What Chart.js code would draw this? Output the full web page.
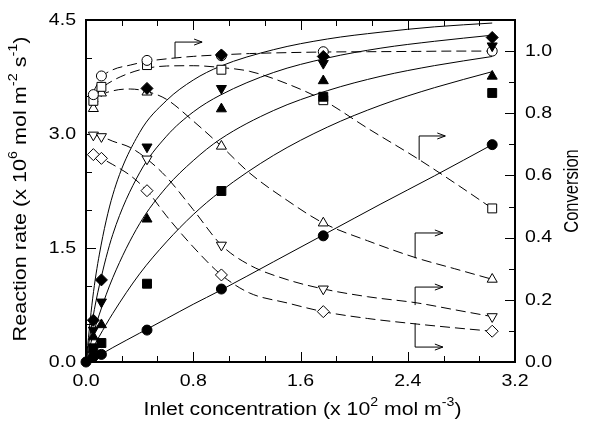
<!DOCTYPE html>
<html>
<head>
<meta charset="utf-8">
<script src="https://cdn.jsdelivr.net/npm/chart.js@4.4.0/dist/chart.umd.min.js"></script>
<style>
  html, body { margin: 0; padding: 0; background: #fff; }
</style>
</head>
<body>
<canvas id="myChart" width="589" height="433"></canvas>
<script>
// concentrazioni misurate (x 10^2 mol m^-3)
const concMisure = [0.055, 0.115, 0.455, 1.01, 1.77, 3.03];

// velocita' di reazione (x 10^6 mol m^-2 s^-1), simboli pieni
const velCerchi   = [0.07, 0.10, 0.42, 0.96, 1.66, 2.86];
const velQuadrati = [0.18, 0.25, 1.03, 2.25, 3.49, 3.54];
const velTriSu    = [0.33, 0.49, 1.88, 3.33, 3.70, 3.76];
const velTriGiu   = [0.42, 0.79, 2.83, 3.60, 3.93, 4.16];
const velRombi    = [0.55, 1.08, 3.60, 4.04, 4.02, 4.27];

// conversione, simboli vuoti
const convCerchi   = [0.86, 0.92, 0.97, 0.985, 0.998, 1.00];
const convQuadrati = [0.84, 0.885, 0.955, 0.94, 0.842, 0.494];
const convTriSu    = [0.815, 0.865, 0.868, 0.694, 0.447, 0.266];
const convTriGiu   = [0.73, 0.725, 0.653, 0.376, 0.235, 0.146];
const convRombi    = [0.667, 0.655, 0.551, 0.28, 0.162, 0.099];

// curve continue (modello)
const concModello = [0, 0.05, 0.1, 0.2, 0.4, 0.6, 0.8, 1.0, 1.4, 1.8, 2.2, 2.6, 3.03];
const modRombi    = [0, 0.84, 1.42, 2.20, 3.02, 3.44, 3.71, 3.89, 4.11, 4.25, 4.34, 4.41, 4.46];
const modTriGiu   = [0, 0.57, 1.01, 1.68, 2.49, 2.97, 3.29, 3.51, 3.81, 4.00, 4.13, 4.22, 4.30];
const modTriSu    = [0, 0.34, 0.63, 1.11, 1.82, 2.30, 2.65, 2.93, 3.31, 3.57, 3.76, 3.90, 4.02];
const modQuadrati = [0, 0.18, 0.34, 0.64, 1.16, 1.58, 1.94, 2.24, 2.72, 3.09, 3.38, 3.61, 3.82];
const modCerchi   = [0, 0.05, 0.09, 0.19, 0.38, 0.57, 0.76, 0.94, 1.32, 1.70, 2.08, 2.45, 2.86];

// curve tratteggiate della conversione
const concTratt = [0.055, 0.115, 0.2, 0.33, 0.455, 0.6, 0.8, 1.01, 1.22, 1.5, 1.77, 2.1, 2.47, 2.75, 3.03];
const trCerchi   = [0.87, 0.915, 0.94, 0.955, 0.967, 0.975, 0.983, 0.988, 0.992, 0.995, 0.997, 0.998, 0.999, 1.0, 1.0];
const trQuadrati = [0.85, 0.88, 0.905, 0.93, 0.945, 0.952, 0.953, 0.947, 0.935, 0.895, 0.842, 0.752, 0.655, 0.576, 0.494];
const trTriSu    = [0.81, 0.855, 0.872, 0.878, 0.87, 0.845, 0.775, 0.694, 0.608, 0.52, 0.447, 0.39, 0.334, 0.30, 0.266];
const trTriGiu   = [0.73, 0.725, 0.71, 0.69, 0.653, 0.595, 0.49, 0.376, 0.312, 0.265, 0.235, 0.21, 0.19, 0.168, 0.146];
const trRombi    = [0.667, 0.655, 0.635, 0.60, 0.551, 0.47, 0.37, 0.28, 0.222, 0.19, 0.162, 0.14, 0.122, 0.11, 0.099];

// tacche degli assi
const tickX = [0, 0.8, 1.6, 2.4, 3.2];
const tickXMinori = [0.267, 0.533, 1.067, 1.333, 1.867, 2.133, 2.667, 2.933];
const tickY = [0, 1.5, 3.0, 4.5];
const tickYMinori = [0.5, 1.0, 2.0, 2.5, 3.5, 4.0];
const tickConv = [0, 0.2, 0.4, 0.6, 0.8, 1.0];
const tickConvMinori = [0.1, 0.3, 0.5, 0.7, 0.9];

// frecce verso l'asse destro: [x, y inizio, y gomito, x punta] in unita' dei dati
const frecce = [
  [0.664, 0.977, 1.029, 0.866],
  [2.485, 0.650, 0.727, 2.680],
  [2.455, 0.334, 0.415, 2.662],
  [2.455, 0.183, 0.241, 2.662],
  [2.455, 0.125, 0.048, 2.662]
];

const FONT = '"Liberation Sans", Arial, sans-serif';
const DIM_TICK = 17;
const STIRA_TICK = 1.15;

function punti(xs, ys) {
  return xs.map((x, i) => ({x: x, y: ys[i]}));
}

function curva(xs, ys, asse, tratteggio) {
  return {
    data: punti(xs, ys),
    yAxisID: asse,
    showLine: true,
    pointRadius: 0,
    borderColor: '#000',
    borderWidth: 1,
    borderDash: tratteggio ? [10, 5] : [],
    cubicInterpolationMode: 'monotone',
    order: 2
  };
}

function simboli(ys, asse, stile, raggio, pieno, rot) {
  return {
    data: punti(concMisure, ys),
    yAxisID: asse,
    showLine: false,
    pointStyle: stile,
    pointRadius: raggio,
    pointRotation: rot || 0,
    pointBackgroundColor: pieno ? '#000' : '#fff',
    pointBorderColor: '#000',
    pointBorderWidth: 1,
    clip: false,
    order: 1
  };
}

// scrive un testo con apici, centrato in (x,y)
function scriviTesto(ctx, parti, x, y, ruota, dim, stira, spessore) {
  ctx.save();
  ctx.translate(x, y);
  if (ruota) ctx.rotate(-Math.PI / 2);
  ctx.scale(stira, spessore || 1);
  const dimApice = Math.round(dim * 0.65);
  let larg = 0;
  for (const p of parti) {
    ctx.font = (p[1] ? dimApice : dim) + 'px ' + FONT;
    larg += ctx.measureText(p[0]).width;
  }
  let cx = -larg / 2;
  ctx.textAlign = 'left';
  ctx.textBaseline = 'middle';
  ctx.fillStyle = '#000';
  for (const p of parti) {
    ctx.font = (p[1] ? dimApice : dim) + 'px ' + FONT;
    ctx.fillText(p[0], cx, p[1] ? -dim * 0.38 : 0);
    cx += ctx.measureText(p[0]).width;
  }
  ctx.restore();
}

function scriviTick(ctx, testo, x, y, allinea) {
  ctx.save();
  ctx.font = DIM_TICK + 'px ' + FONT;
  const w = ctx.measureText(testo).width * STIRA_TICK;
  let x0 = x;
  if (allinea === 'right') x0 = x - w;
  if (allinea === 'center') x0 = x - w / 2;
  ctx.translate(x0, y);
  ctx.scale(STIRA_TICK, 1);
  ctx.textAlign = 'left';
  ctx.textBaseline = 'middle';
  ctx.fillStyle = '#000';
  ctx.fillText(testo, 0, 0);
  ctx.restore();
}

const assiPlugin = {
  id: 'assi',
  beforeDatasetsDraw(chart) {
    const ctx = chart.ctx;
    const a = chart.chartArea;
    const sx = chart.scales.x, sy = chart.scales.y, sc = chart.scales.y2;
    ctx.save();
    ctx.strokeStyle = '#000';
    ctx.lineWidth = 1;
    ctx.beginPath();
    // tacche verso l'interno, lunghe e corte
    tickX.concat(tickXMinori).forEach(v => {
      const l = tickX.includes(v) ? 10 : 6;
      const px = Math.round(sx.getPixelForValue(v)) + 0.5;
      ctx.moveTo(px, a.bottom); ctx.lineTo(px, a.bottom - l);
      ctx.moveTo(px, a.top); ctx.lineTo(px, a.top + l);
    });
    tickY.concat(tickYMinori).forEach(v => {
      const l = tickY.includes(v) ? 10 : 6;
      const py = Math.round(sy.getPixelForValue(v)) + 0.5;
      ctx.moveTo(a.left, py); ctx.lineTo(a.left + l, py);
    });
    tickConv.concat(tickConvMinori).forEach(v => {
      const l = tickConv.includes(v) ? 10 : 6;
      const py = Math.round(sc.getPixelForValue(v)) + 0.5;
      ctx.moveTo(a.right, py); ctx.lineTo(a.right - l, py);
    });
    ctx.stroke();

    // frecce
    frecce.forEach(f => {
      const x0 = sx.getPixelForValue(f[0]);
      const y0 = sc.getPixelForValue(f[1]);
      const y1 = sc.getPixelForValue(f[2]);
      const x1 = sx.getPixelForValue(f[3]);
      ctx.beginPath();
      ctx.moveTo(x0, y0); ctx.lineTo(x0, y1); ctx.lineTo(x1, y1);
      ctx.moveTo(x1 - 8, y1 - 3); ctx.lineTo(x1, y1); ctx.lineTo(x1 - 8, y1 + 3);
      ctx.stroke();
    });

    // cornice
    ctx.lineWidth = 2;
    ctx.strokeRect(a.left, a.top, a.right - a.left, a.bottom - a.top);
    ctx.restore();
  },
  afterDraw(chart) {
    const ctx = chart.ctx;
    const a = chart.chartArea;
    const sx = chart.scales.x, sy = chart.scales.y, sc = chart.scales.y2;
    tickX.forEach(v => scriviTick(ctx, v.toFixed(1), sx.getPixelForValue(v), a.bottom + 19, 'center'));
    tickY.forEach(v => scriviTick(ctx, v.toFixed(1), a.left - 10, sy.getPixelForValue(v), 'right'));
    tickConv.forEach(v => scriviTick(ctx, v.toFixed(1), a.right + 10, sc.getPixelForValue(v), 'left'));

    const cx = (a.left + a.right) / 2;
    const cy = (a.top + a.bottom) / 2;
    scriviTesto(ctx, [['Inlet concentration (x 10', 0], ['2', 1], [' mol m', 0], ['-3', 1], [')', 0]],
      cx + 2, a.bottom + 48, false, 18, 1.18);
    scriviTesto(ctx, [['Reaction rate (x 10', 0], ['6', 1], [' mol m', 0], ['-2', 1], [' s', 0], ['-1', 1], [')', 0]],
      21, cy - 2, true, 18, 1.2);
    scriviTesto(ctx, [['Conversion', 0]], 573, cy, true, 16.5, 1.0, 1.2);
  }
};

function creaGrafico() {
  const ctx = document.getElementById('myChart').getContext('2d');
  // il cerchio pieno parte dall'origine
  const cerchi = simboli(velCerchi, 'y', 'circle', 5, true);
  cerchi.data.unshift({x: 0, y: 0});
  // i primi della lista vengono disegnati sopra
  const datasets = [
    cerchi,
    simboli(velRombi, 'y', 'rectRot', 6, true),
    simboli(velTriGiu, 'y', 'triangle', 5.8, true, 180),
    simboli(velTriSu, 'y', 'triangle', 5.8, true),
    simboli(velQuadrati, 'y', 'rect', 6.3, true),
    simboli(convCerchi, 'y2', 'circle', 5, false),
    simboli(convQuadrati, 'y2', 'rect', 6.3, false),
    simboli(convTriSu, 'y2', 'triangle', 5.8, false),
    simboli(convTriGiu, 'y2', 'triangle', 5.8, false, 180),
    simboli(convRombi, 'y2', 'rectRot', 6, false),
    curva(concModello, modRombi, 'y', false),
    curva(concModello, modTriGiu, 'y', false),
    curva(concModello, modTriSu, 'y', false),
    curva(concModello, modQuadrati, 'y', false),
    curva(concModello, modCerchi, 'y', false),
    curva(concTratt, trCerchi, 'y2', true),
    curva(concTratt, trQuadrati, 'y2', true),
    curva(concTratt, trTriSu, 'y2', true),
    curva(concTratt, trTriGiu, 'y2', true),
    curva(concTratt, trRombi, 'y2', true)
  ];

  new Chart(ctx, {
    type: 'scatter',
    data: { datasets },
    options: {
      responsive: false,
      animation: false,
      events: [],
      layout: { padding: { left: 86, right: 74, top: 20, bottom: 71 } },
      plugins: { legend: { display: false }, tooltip: { enabled: false } },
      scales: {
        x: { type: 'linear', min: 0, max: 3.2, display: false },
        y: { type: 'linear', min: 0, max: 4.5, display: false },
        y2: { type: 'linear', position: 'right', min: 0, max: 1.1, display: false }
      }
    },
    plugins: [assiPlugin]
  });
}

creaGrafico();
</script>
</body>
</html>
